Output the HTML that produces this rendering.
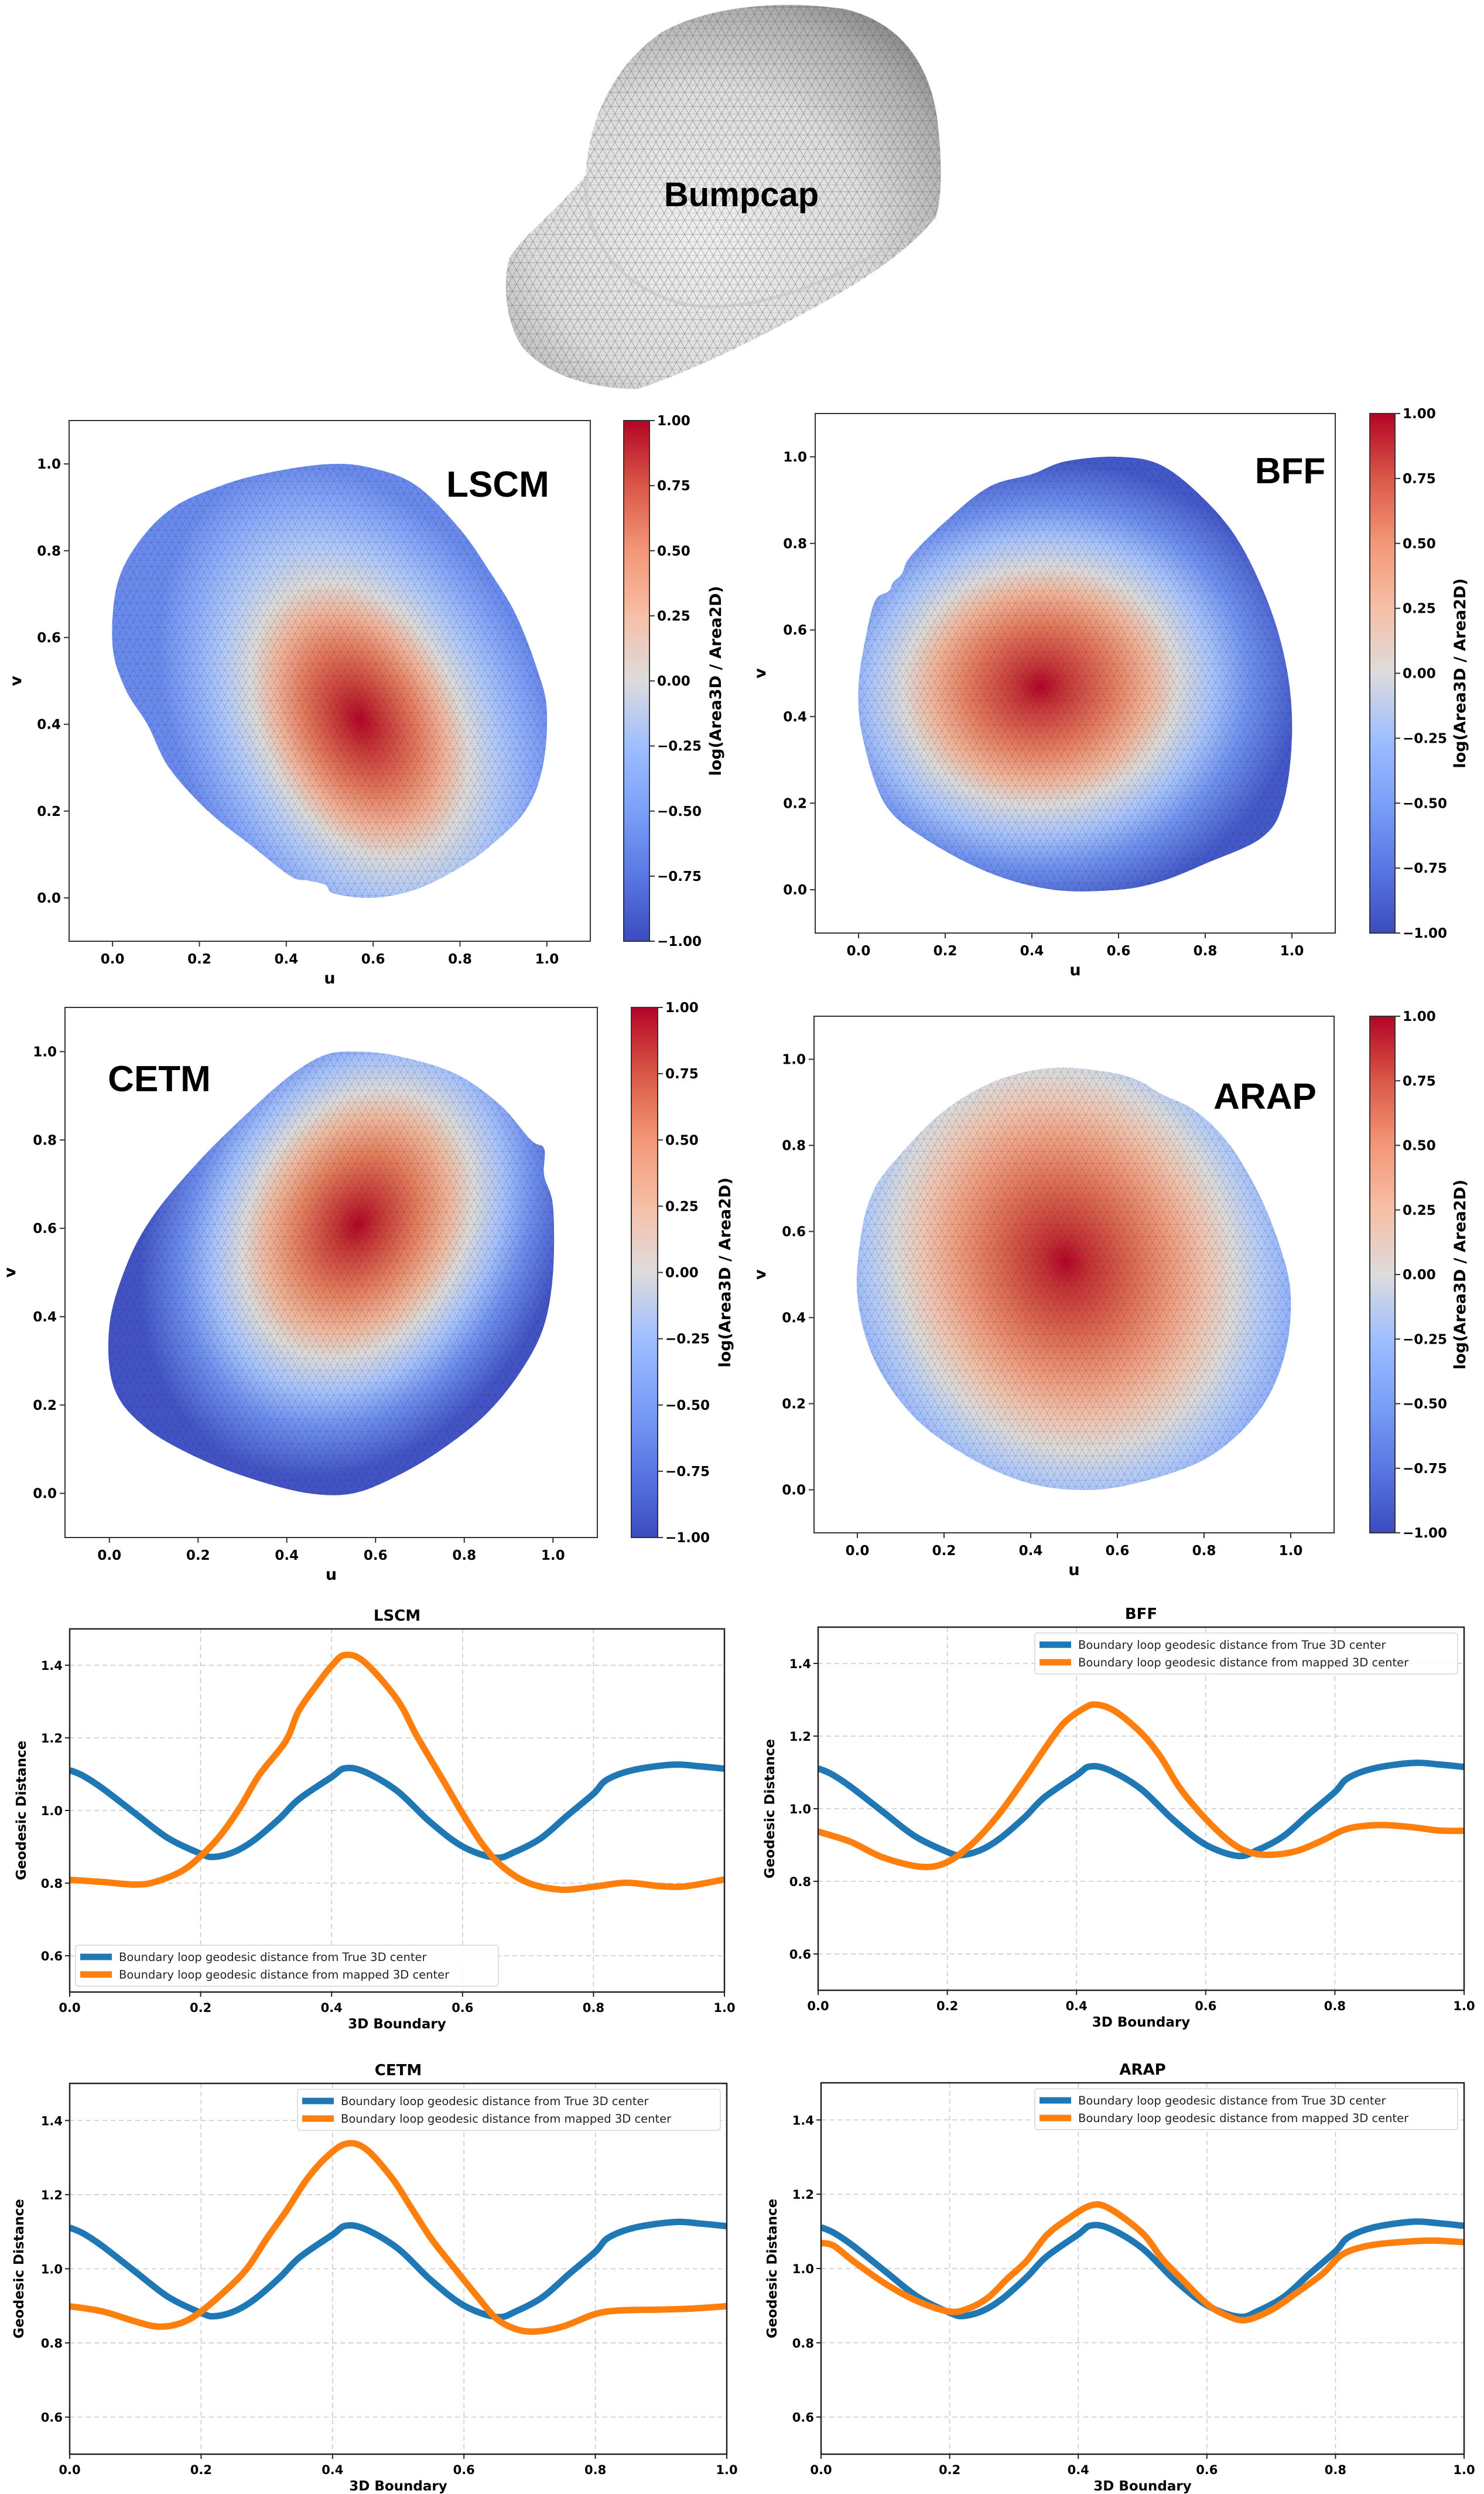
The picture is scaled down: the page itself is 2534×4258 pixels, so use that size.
<!DOCTYPE html>
<html><head><meta charset="utf-8"><title>Bumpcap parameterization comparison</title>
<style>
html,body{margin:0;padding:0;background:#fff;}
svg{display:block;}
text{font-family:"DejaVu Sans","Liberation Sans",sans-serif;}
</style></head>
<body>
<svg id="fig" xmlns="http://www.w3.org/2000/svg" width="2534" height="4258" viewBox="0 0 2534 4258">
<defs>
  <pattern id="mesh" patternUnits="userSpaceOnUse" width="12" height="20.8">
    <path d="M0 0 L12 0 M0 10.4 L12 10.4 M0 0 L12 20.8 M12 0 L0 20.8" stroke="#222" stroke-opacity="0.25" stroke-width="0.8" fill="none"/>
  </pattern>
  <pattern id="mesh2" patternUnits="userSpaceOnUse" width="14" height="24.25">
    <path d="M0 0 L14 0 M0 12.12 L14 12.12 M0 0 L14 24.25 M14 0 L0 24.25" stroke="#555" stroke-opacity="0.45" stroke-width="1" fill="none"/>
  </pattern>
  <radialGradient id="helmetGrad" cx="0.45" cy="0.6" r="0.7">
    <stop offset="0" stop-color="#f0f0f0"/>
    <stop offset="0.55" stop-color="#dedede"/>
    <stop offset="0.85" stop-color="#b0b0b0"/>
    <stop offset="1" stop-color="#8a8a8a"/>
  </radialGradient>
  <linearGradient id="cbGrad" x1="0" y1="1" x2="0" y2="0">
    <stop offset="0" stop-color="#3b4cc0"/>
    <stop offset="0.125" stop-color="#5977e3"/>
    <stop offset="0.25" stop-color="#7b9ff9"/>
    <stop offset="0.375" stop-color="#9ebeff"/>
    <stop offset="0.5" stop-color="#dddcdc"/>
    <stop offset="0.625" stop-color="#f6bfa6"/>
    <stop offset="0.75" stop-color="#f39778"/>
    <stop offset="0.875" stop-color="#d95847"/>
    <stop offset="1" stop-color="#b40426"/>
  </linearGradient>
</defs>

<g id="helmet">
  <path d="M1000 300 C1005 200 1050 110 1130 55 C1210 10 1330 0 1440 15 C1530 35 1585 100 1600 200 C1610 280 1608 340 1598 370 C1560 420 1490 470 1400 520 C1300 575 1190 630 1090 664 C1010 665 930 640 890 590 C862 545 858 480 870 440 C895 400 940 370 1000 300 Z" fill="url(#helmetGrad)"/>
  <path d="M1000 300 C1005 200 1050 110 1130 55 C1210 10 1330 0 1440 15 C1530 35 1585 100 1600 200 C1610 280 1608 340 1598 370 C1560 420 1490 470 1400 520 C1300 575 1190 630 1090 664 C1010 665 930 640 890 590 C862 545 858 480 870 440 C895 400 940 370 1000 300 Z" fill="url(#mesh2)"/>
  <path d="M1000 300 C995 400 1050 490 1170 520 C1300 540 1450 470 1598 370" fill="none" stroke="#c4c4c4" stroke-width="5" stroke-opacity="0.6"/>
  <text x="1266" y="352" font-weight="bold" font-size="58" text-anchor="middle" style="font-family:'Liberation Sans',sans-serif">Bumpcap</text>
</g>

<g id="uvLayer"></g>
<g id="lineLayer"></g>
</svg>

<script>
// ---------------- Line chart data ----------------
const xTicks = [0.0, 0.2, 0.4, 0.6, 0.8, 1.0];
const xTickLabels = ["0.0", "0.2", "0.4", "0.6", "0.8", "1.0"];
const yTicks = [0.6, 0.8, 1.0, 1.2, 1.4];
const yTickLabels = ["0.6", "0.8", "1.0", "1.2", "1.4"];
const legendLabels = ["Boundary loop geodesic distance from True 3D center", "Boundary loop geodesic distance from mapped 3D center"];

const trueX = [0, 0.02, 0.05, 0.1, 0.15, 0.2, 0.22, 0.25, 0.28, 0.32, 0.35, 0.4, 0.42, 0.45, 0.5, 0.55, 0.6, 0.65, 0.68, 0.72, 0.76, 0.8, 0.82, 0.86, 0.92, 0.96, 1.0];
const trueY = [1.111, 1.096, 1.061, 0.992, 0.924, 0.881, 0.872, 0.885, 0.916, 0.977, 1.031, 1.092, 1.116, 1.107, 1.054, 0.969, 0.901, 0.870, 0.886, 0.924, 0.986, 1.046, 1.084, 1.111, 1.126, 1.122, 1.115];

const lscmX = [0, 0.05, 0.1, 0.13, 0.17, 0.2, 0.23, 0.26, 0.29, 0.33, 0.35, 0.38, 0.4, 0.42, 0.45, 0.5, 0.53, 0.57, 0.6, 0.63, 0.66, 0.7, 0.75, 0.8, 0.85, 0.9, 0.94, 1.0];
const lscmY = [0.809, 0.803, 0.796, 0.803, 0.832, 0.874, 0.931, 1.008, 1.099, 1.191, 1.275, 1.352, 1.398, 1.428, 1.409, 1.306, 1.206, 1.084, 0.992, 0.908, 0.847, 0.801, 0.782, 0.790, 0.801, 0.792, 0.791, 0.810];

const bffX = [0, 0.05, 0.1, 0.16, 0.2, 0.24, 0.28, 0.32, 0.35, 0.38, 0.41, 0.43, 0.46, 0.5, 0.53, 0.56, 0.6, 0.64, 0.67, 0.7, 0.74, 0.78, 0.82, 0.87, 0.92, 0.96, 1.0];
const bffY = [0.937, 0.909, 0.866, 0.840, 0.853, 0.906, 0.985, 1.084, 1.163, 1.235, 1.275, 1.287, 1.268, 1.209, 1.143, 1.057, 0.972, 0.906, 0.879, 0.873, 0.883, 0.912, 0.945, 0.955, 0.949, 0.940, 0.939];

const cetmX = [0, 0.05, 0.1, 0.135, 0.17, 0.2, 0.24, 0.27, 0.3, 0.33, 0.36, 0.39, 0.42, 0.45, 0.49, 0.52, 0.55, 0.58, 0.62, 0.65, 0.68, 0.71, 0.75, 0.8, 0.84, 0.9, 0.95, 1.0];
const cetmY = [0.899, 0.885, 0.858, 0.844, 0.854, 0.885, 0.946, 1.001, 1.082, 1.157, 1.239, 1.300, 1.337, 1.324, 1.246, 1.164, 1.082, 1.014, 0.926, 0.865, 0.837, 0.831, 0.844, 0.878, 0.888, 0.890, 0.893, 0.899];

const arapX = [0, 0.02, 0.05, 0.1, 0.15, 0.2, 0.23, 0.26, 0.29, 0.32, 0.35, 0.38, 0.42, 0.45, 0.5, 0.53, 0.56, 0.6, 0.63, 0.66, 0.7, 0.74, 0.78, 0.81, 0.85, 0.9, 0.95, 1.0];
const arapY = [1.069, 1.061, 1.020, 0.959, 0.912, 0.884, 0.893, 0.922, 0.973, 1.021, 1.088, 1.129, 1.170, 1.160, 1.095, 1.027, 0.973, 0.905, 0.874, 0.861, 0.888, 0.935, 0.986, 1.037, 1.061, 1.071, 1.075, 1.071];

// ---------------- Colorbar data ----------------
const cbTicks = [-1.0, -0.75, -0.5, -0.25, 0.0, 0.25, 0.5, 0.75, 1.0];
const cbTickLabels = ["\u22121.00", "\u22120.75", "\u22120.50", "\u22120.25", "0.00", "0.25", "0.50", "0.75", "1.00"];
const uvTicks = [0.0, 0.2, 0.4, 0.6, 0.8, 1.0];
const uvTickLabels = ["0.0", "0.2", "0.4", "0.6", "0.8", "1.0"];

// UV boundaries (u,v data coordinates)
const lscmU = [0.50,0.60,0.70,0.80,0.87,0.93,0.98,1.00,0.99,0.95,0.87,0.80,0.70,0.60,0.51,0.49,0.45,0.41,0.32,0.22,0.13,0.08,0.03,0.00,0.01,0.06,0.14,0.25,0.36];
const lscmV = [1.00,0.99,0.95,0.85,0.75,0.65,0.52,0.43,0.30,0.20,0.12,0.07,0.02,0.00,0.01,0.03,0.04,0.05,0.12,0.20,0.30,0.40,0.48,0.58,0.72,0.82,0.90,0.95,0.98];
const bffU = [0.60,0.70,0.80,0.88,0.95,0.99,1.00,0.98,0.93,0.80,0.70,0.60,0.45,0.30,0.15,0.06,0.01,0.00,0.02,0.04,0.07,0.08,0.10,0.12,0.20,0.30,0.40,0.48];
const bffV = [1.00,0.98,0.90,0.80,0.65,0.50,0.35,0.20,0.12,0.06,0.02,0.00,0.00,0.04,0.12,0.20,0.35,0.47,0.60,0.67,0.69,0.71,0.73,0.77,0.85,0.93,0.96,0.99];
const cetmU = [0.55,0.65,0.78,0.88,0.95,0.98,0.98,1.00,1.00,0.98,0.93,0.85,0.75,0.65,0.55,0.45,0.33,0.20,0.08,0.01,0.00,0.04,0.10,0.20,0.30,0.40,0.48];
const cetmV = [1.00,0.99,0.95,0.88,0.80,0.78,0.72,0.65,0.50,0.38,0.28,0.18,0.10,0.04,0.00,0.00,0.03,0.08,0.15,0.24,0.38,0.52,0.63,0.75,0.85,0.94,0.99];
const arapU = [0.10,0.20,0.32,0.45,0.58,0.65,0.70,0.78,0.86,0.93,0.98,1.00,0.99,0.95,0.88,0.78,0.62,0.50,0.38,0.25,0.13,0.04,0.00,0.01,0.04];
const arapV = [0.78,0.88,0.95,0.98,0.97,0.95,0.92,0.88,0.80,0.68,0.55,0.45,0.33,0.22,0.13,0.06,0.01,0.00,0.02,0.08,0.17,0.30,0.45,0.60,0.70];

const NS = "http://www.w3.org/2000/svg";
function mk(tag, attrs, parent) {
  const e = document.createElementNS(NS, tag);
  for (const k in attrs) e.setAttribute(k, attrs[k]);
  if (parent) parent.appendChild(e);
  return e;
}
function txt(str, attrs, parent) {
  const e = mk("text", attrs, parent);
  e.textContent = str;
  return e;
}
function closedSmooth(pts) {
  const n = pts.length;
  let d = "M" + pts[0][0].toFixed(1) + " " + pts[0][1].toFixed(1);
  for (let i = 0; i < n; i++) {
    const p0 = pts[(i - 1 + n) % n], p1 = pts[i], p2 = pts[(i + 1) % n], p3 = pts[(i + 2) % n];
    const c1x = p1[0] + (p2[0] - p0[0]) / 6, c1y = p1[1] + (p2[1] - p0[1]) / 6;
    const c2x = p2[0] - (p3[0] - p1[0]) / 6, c2y = p2[1] - (p3[1] - p1[1]) / 6;
    d += " C" + c1x.toFixed(1) + " " + c1y.toFixed(1) + " " + c2x.toFixed(1) + " " + c2y.toFixed(1) + " " + p2[0].toFixed(1) + " " + p2[1].toFixed(1);
  }
  return d + " Z";
}

// ---------------- UV maps ----------------
const uvLayer = document.getElementById("uvLayer");
const defs = document.querySelector("defs");

const uvSpecs = [
  {id:"lscm", title:"LSCM", l:118, r:1008, t:718, b:1607, cbl:1065, cbr:1109, U:lscmU, V:lscmV,
   lx:850, ly:848, ylx:36, cblx:1231, base:"#6a8bef", cu:0.57, cv:0.41, rx:0.62, ry:0.42, rot:64,
   stops:[[0,"#b40426"],[0.1,"#c53034"],[0.28,"#e4785c"],[0.42,"#f2b49a"],[0.54,"#dddcdc"],[0.68,"#b2cbfb"],[0.84,"#8aabfd"],[1,"#6a8bef"]]},
  {id:"bff", title:"BFF", l:1392, r:2280, t:706, b:1593, cbl:2339, cbr:2382, U:bffU, V:bffV,
   lx:2203, ly:825, ylx:1307, cblx:2502, base:"#4459cb", cu:0.42, cv:0.47, rx:0.6, ry:0.52, rot:-6,
   stops:[[0,"#b40426"],[0.1,"#c8373a"],[0.28,"#e67c5f"],[0.42,"#f2b69b"],[0.53,"#dddcdc"],[0.66,"#a9c5fe"],[0.8,"#7093f2"],[1,"#4459cb"]]},
  {id:"cetm", title:"CETM", l:111, r:1020, t:1720, b:2625, cbl:1078, cbr:1123, U:cetmU, V:cetmV,
   lx:272, ly:1863, ylx:26, cblx:1247, base:"#4254c8", cu:0.56, cv:0.61, rx:0.6, ry:0.46, rot:-62,
   stops:[[0,"#b40426"],[0.1,"#c63536"],[0.28,"#e6805f"],[0.42,"#f1b89d"],[0.53,"#dddcdc"],[0.66,"#a8c4fe"],[0.8,"#6e90f1"],[1,"#4254c8"]]},
  {id:"arap", title:"ARAP", l:1390, r:2278, t:1735, b:2617, cbl:2339, cbr:2382, U:arapU, V:arapV,
   lx:2160, ly:1893, ylx:1307, cblx:2502, base:"#8fb0fe", cu:0.48, cv:0.53, rx:0.6, ry:0.52, rot:69,
   stops:[[0,"#b40426"],[0.1,"#c53034"],[0.3,"#de6c52"],[0.48,"#f19f82"],[0.62,"#f1c6b2"],[0.74,"#dddcdc"],[0.86,"#b5cdfa"],[1,"#8fb0fe"]]}
];

uvSpecs.forEach(function(s) {
  const g = mk("g", {}, uvLayer);
  
  
  const sx = function(u) { return s.l + (u + 0.1) / 1.2 * (s.r - s.l); };
  const sy = function(v) { return s.b - (v + 0.1) / 1.2 * (s.b - s.t); };
  const d = closedSmooth(s.U.map(function(u, i) { return [sx(u), sy(s.V[i])]; }));
  const clip = mk("clipPath", {id: "clip-" + s.id}, defs);
  mk("path", {d: d}, clip);
  const grad = mk("radialGradient", {id: "grad-" + s.id, cx: "0.5", cy: "0.5", r: "0.5"}, defs);
  s.stops.forEach(function(st) { mk("stop", {offset: st[0], "stop-color": st[1]}, grad); });

  const shape = mk("g", {"clip-path": "url(#clip-" + s.id + ")"}, g);
  
  
  mk("path", {d: d, fill: s.base}, shape);
  const pxU = (s.r - s.l) / 1.2, pxV = (s.b - s.t) / 1.2;
  const ccx = sx(s.cu), ccy = sy(s.cv);
  mk("ellipse", {cx: ccx, cy: ccy, rx: s.rx * pxU, ry: s.ry * pxV, fill: "url(#grad-" + s.id + ")",
    transform: "rotate(" + s.rot + " " + ccx + " " + ccy + ")"}, shape);
  mk("rect", {x: s.l, y: s.t, width: s.r - s.l, height: s.b - s.t, fill: "url(#mesh)"}, shape);

  const frame = mk("rect", {x: s.l, y: s.t, width: s.r - s.l, height: s.b - s.t, fill: "none", stroke: "#333", "stroke-width": 2}, g);
  
  

  uvTicks.forEach(function(tv, i) {
    mk("line", {x1: sx(tv), x2: sx(tv), y1: s.b, y2: s.b + 9, stroke: "#333", "stroke-width": 2}, g);
    const tx = txt(uvTickLabels[i], {x: sx(tv), y: s.b + 38, "font-size": 23, "font-weight": "bold", "text-anchor": "middle"}, g);
    
    
    mk("line", {x1: s.l - 9, x2: s.l, y1: sy(tv), y2: sy(tv), stroke: "#333", "stroke-width": 2}, g);
    const ty = txt(uvTickLabels[i], {x: s.l - 14, y: sy(tv) + 8, "font-size": 23, "font-weight": "bold", "text-anchor": "end"}, g);
    
    
  });
  const ul = txt("u", {x: (s.l + s.r) / 2, y: s.b + 72, "font-size": 27, "font-weight": "bold", "text-anchor": "middle"}, g);
  
  
  const vl = txt("v", {x: s.ylx, y: (s.t + s.b) / 2, "font-size": 27, "font-weight": "bold", "text-anchor": "middle",
    transform: "rotate(-90 " + s.ylx + " " + ((s.t + s.b) / 2) + ")"}, g);
  
  

  const mt = txt(s.title, {x: s.lx, y: s.ly, "font-size": 62, "font-weight": "bold", "text-anchor": "middle",
    style: "font-family:'Liberation Sans',sans-serif"}, g);
  
  

  const cb = mk("rect", {x: s.cbl, y: s.t, width: s.cbr - s.cbl, height: s.b - s.t, fill: "url(#cbGrad)", stroke: "#333", "stroke-width": 2}, g);
  
  
  const cy = function(c) { return s.b - (c + 1) / 2 * (s.b - s.t); };
  cbTicks.forEach(function(c, i) {
    mk("line", {x1: s.cbr, x2: s.cbr + 9, y1: cy(c), y2: cy(c), stroke: "#333", "stroke-width": 2}, g);
    const ct = txt(cbTickLabels[i], {x: s.cbr + 13, y: cy(c) + 8, "font-size": 23, "font-weight": "bold"}, g);
    
    
  });
  const cl = txt("log(Area3D / Area2D)", {x: s.cblx, y: (s.t + s.b) / 2, "font-size": 27, "font-weight": "bold", "text-anchor": "middle",
    transform: "rotate(-90 " + s.cblx + " " + ((s.t + s.b) / 2) + ")"}, g);
  
  
});

// ---------------- Line charts ----------------
const lineLayer = document.getElementById("lineLayer");
const lineSpecs = [
  {id:"lscm", title:"LSCM", l:119, r:1237, t:2781, b:3401, legend:"ll", ylx:44, mx:lscmX, my:lscmY},
  {id:"bff", title:"BFF", l:1397, r:2500, t:2778, b:3398, legend:"ur", ylx:1322, mx:bffX, my:bffY},
  {id:"cetm", title:"CETM", l:119, r:1241, t:3557, b:4190, legend:"ur", ylx:40, mx:cetmX, my:cetmY},
  {id:"arap", title:"ARAP", l:1402, r:2500, t:3556, b:4190, legend:"ur", ylx:1326, mx:arapX, my:arapY}
];

function smoothPath(pts) {
  let d = "M" + pts[0][0].toFixed(1) + " " + pts[0][1].toFixed(1);
  for (let i = 0; i < pts.length - 1; i++) {
    const p0 = pts[Math.max(i - 1, 0)], p1 = pts[i], p2 = pts[i + 1], p3 = pts[Math.min(i + 2, pts.length - 1)];
    const c1x = p1[0] + (p2[0] - p0[0]) / 6, c1y = p1[1] + (p2[1] - p0[1]) / 6;
    const c2x = p2[0] - (p3[0] - p1[0]) / 6, c2y = p2[1] - (p3[1] - p1[1]) / 6;
    d += " C" + c1x.toFixed(1) + " " + c1y.toFixed(1) + " " + c2x.toFixed(1) + " " + c2y.toFixed(1) + " " + p2[0].toFixed(1) + " " + p2[1].toFixed(1);
  }
  return d;
}

lineSpecs.forEach(function(s) {
  const g = mk("g", {}, lineLayer);
  
  
  const sx = function(x) { return s.l + x * (s.r - s.l); };
  const sy = function(y) { return s.b - (y - 0.5) / 1.0 * (s.b - s.t); };

  xTicks.forEach(function(xv) {
    const gl = mk("line", {x1: sx(xv), x2: sx(xv), y1: s.t, y2: s.b, stroke: "#c8c8c8", "stroke-width": 1.5, "stroke-dasharray": "8 6"}, g);
    
    
  });
  yTicks.forEach(function(yv) {
    const gl = mk("line", {x1: s.l, x2: s.r, y1: sy(yv), y2: sy(yv), stroke: "#c8c8c8", "stroke-width": 1.5, "stroke-dasharray": "8 6"}, g);
    
    
  });

  const clipId = "lclip-" + s.id;
  const cp = mk("clipPath", {id: clipId}, defs);
  mk("rect", {x: s.l, y: s.t, width: s.r - s.l, height: s.b - s.t}, cp);
  const trueLine = mk("path", {d: smoothPath(trueX.map(function(x, i) { return [sx(x), sy(trueY[i])]; })),
    fill: "none", stroke: "#1f77b4", "stroke-width": 11, "stroke-linejoin": "round", "clip-path": "url(#" + clipId + ")"}, g);
  
  
  const mapLine = mk("path", {d: smoothPath(s.mx.map(function(x, i) { return [sx(x), sy(s.my[i])]; })),
    fill: "none", stroke: "#ff7f0e", "stroke-width": 11, "stroke-linejoin": "round", "clip-path": "url(#" + clipId + ")"}, g);
  
  

  const fr = mk("rect", {x: s.l, y: s.t, width: s.r - s.l, height: s.b - s.t, fill: "none", stroke: "#222", "stroke-width": 2.5}, g);
  
  

  xTicks.forEach(function(xv, i) {
    mk("line", {x1: sx(xv), x2: sx(xv), y1: s.b, y2: s.b + 8, stroke: "#222", "stroke-width": 2}, g);
    const t = txt(xTickLabels[i], {x: sx(xv), y: s.b + 34, "font-size": 21, "font-weight": "bold", "text-anchor": "middle"}, g);
    
    
  });
  yTicks.forEach(function(yv, i) {
    mk("line", {x1: s.l - 8, x2: s.l, y1: sy(yv), y2: sy(yv), stroke: "#222", "stroke-width": 2}, g);
    const t = txt(yTickLabels[i], {x: s.l - 12, y: sy(yv) + 8, "font-size": 21, "font-weight": "bold", "text-anchor": "end"}, g);
    
    
  });
  const xl = txt("3D Boundary", {x: (s.l + s.r) / 2, y: s.b + 62, "font-size": 23, "font-weight": "bold", "text-anchor": "middle"}, g);
  
  
  const ymid = (s.t + s.b) / 2;
  const yl = txt("Geodesic Distance", {x: s.ylx, y: ymid, "font-size": 23, "font-weight": "bold", "text-anchor": "middle",
    transform: "rotate(-90 " + s.ylx + " " + ymid + ")"}, g);
  
  
  const tt = txt(s.title, {x: (s.l + s.r) / 2, y: s.t - 14, "font-size": 26, "font-weight": "bold", "text-anchor": "middle"}, g);
  
  

  const lw = 722, lh = 70;
  let lx, ly;
  if (s.legend === "ll") { lx = s.l + 10; ly = s.b - 10 - lh; } else { lx = s.r - 11 - lw; ly = s.t + 10; }
  const lg = mk("g", {}, g);
  
  
  mk("rect", {x: lx, y: ly, width: lw, height: lh, rx: 5, fill: "#fff", "fill-opacity": 0.85, stroke: "#d6d6d6", "stroke-width": 1.5}, lg);
  const colors = ["#1f77b4", "#ff7f0e"];
  legendLabels.forEach(function(lab, i) {
    const yy = ly + 20 + i * 30;
    const h = mk("line", {x1: lx + 8, x2: lx + 62, y1: yy, y2: yy, stroke: colors[i], "stroke-width": 11}, lg);
    
    
    const lt = txt(lab, {x: lx + 74, y: yy + 7, "font-size": 19.5, fill: "#222"}, lg);
    
    
  });
});
</script>
</body></html>
